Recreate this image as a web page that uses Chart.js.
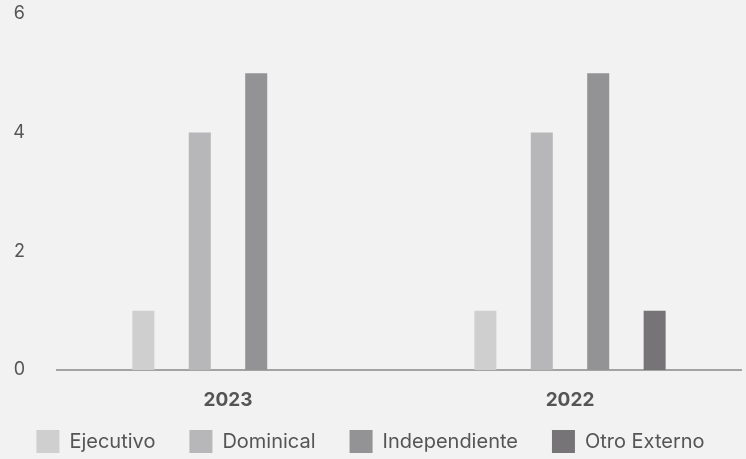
<!DOCTYPE html>
<html lang="es">
<head>
    <meta charset="UTF-8">
    <title>Composición del consejo</title>
    <script src="https://cdn.jsdelivr.net/npm/chart.js"></script>
    <style>
        html, body { margin: 0; padding: 0; background: #f2f2f2; }
        #wrap { width: 746px; height: 459px; }
    </style>
</head>
<body>
    <div id="wrap"><canvas id="barChart"></canvas></div>
    <script>
        const years = ['2023', '2022'];
        const ejecutivo = [1, 1];
        const dominical = [4, 4];
        const independiente = [5, 5];
        const otroExterno = [0, 1];
        const yTicks = [0, 2, 4, 6];

        const fontFam = 'Inter, "Noto Sans", sans-serif';
        const textColor = '#555555';

        new Chart(document.getElementById('barChart'), {
            type: 'bar',
            data: {
                labels: years,
                datasets: [
                    { label: 'Ejecutivo', data: ejecutivo, backgroundColor: '#d0cfd0' },
                    { label: 'Dominical', data: dominical, backgroundColor: '#b7b6b8' },
                    { label: 'Independiente', data: independiente, backgroundColor: '#939294' },
                    { label: 'Otro Externo', data: otroExterno, backgroundColor: '#767477' }
                ]
            },
            options: {
                responsive: true,
                maintainAspectRatio: false,
                animation: false,
                layout: { padding: { left: 0, right: 5, top: 1, bottom: -4 } },
                datasets: { bar: { categoryPercentage: 0.66, barPercentage: 0.39 } },
                scales: {
                    x: {
                        grid: { display: false, drawTicks: false },
                        border: { display: true, color: '#a3a3a3', width: 2 },
                        afterFit: (axis) => { axis.height = 26; },
                        // mirror so the labels are not clipped to the short axis box
                        ticks: { mirror: true, padding: -42, color: textColor, font: { family: fontFam, size: 19, weight: 'bold' } }
                    },
                    y: {
                        min: 0,
                        max: 6,
                        grid: { display: false, drawTicks: true, tickLength: 29 },
                        border: { display: false },
                        afterBuildTicks: (axis) => { axis.ticks = yTicks.map(v => ({ value: v })); },
                        afterFit: (axis) => { axis.width = 57; },
                        ticks: { color: textColor, padding: 3, font: { family: fontFam, size: 18 } }
                    }
                },
                plugins: {
                    legend: {
                        position: 'bottom',
                        labels: {
                            color: textColor,
                            boxWidth: 23,
                            boxHeight: 23,
                            padding: 34,
                            font: { family: fontFam, size: 20 }
                        }
                    },
                    tooltip: { enabled: false }
                }
            }
        });
    </script>
</body>
</html>
